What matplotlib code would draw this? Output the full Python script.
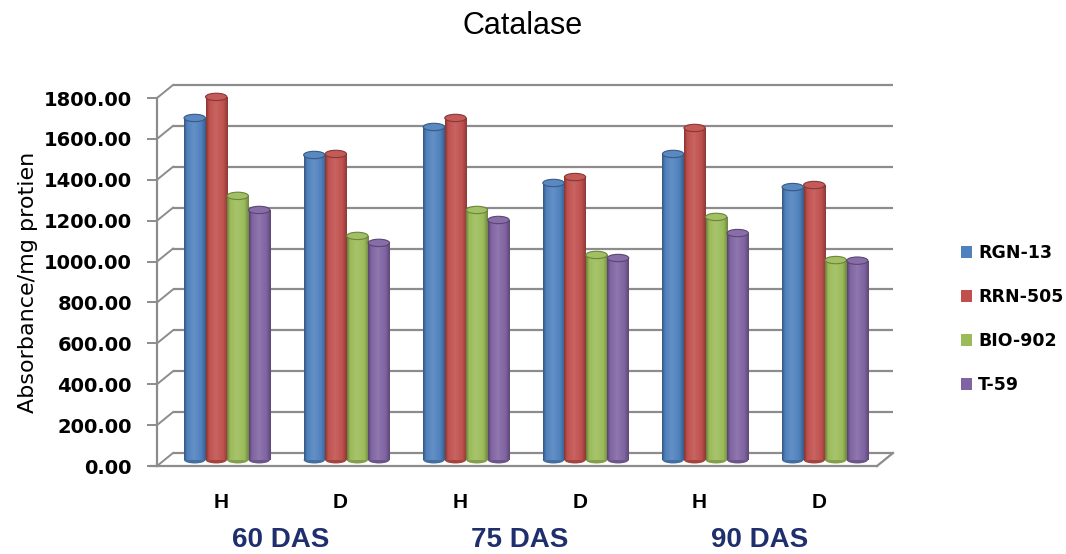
import numpy as np
import matplotlib
matplotlib.use("Agg")
import matplotlib.pyplot as plt
from matplotlib import transforms
from matplotlib.patches import Ellipse, Patch
from matplotlib.colors import LinearSegmentedColormap, to_rgb

# ---- data -------------------------------------------------------------
categories = ["H", "D", "H", "D", "H", "D"]
stages = ["60 DAS", "75 DAS", "90 DAS"]
varieties = ["RGN-13", "RRN-505", "BIO-902", "T-59"]
rgn_13 = [1673, 1492, 1629, 1355, 1497, 1335]
rrn_505 = [1776, 1497, 1673, 1384, 1624, 1345]
bio_902 = [1292, 1096, 1223, 1003, 1189, 978]
t_59 = [1223, 1062, 1174, 988, 1110, 975]
yticks = [0, 200, 400, 600, 800, 1000, 1200, 1400, 1600, 1800]

series = [rgn_13, rrn_505, bio_902, t_59]
colors = ["#4F81BD", "#C0504D", "#9BBB59", "#8064A2"]

W, H, DPI = 1066, 554, 100
GRID = "#8C8C8C"
NAVY = "#1F2F6E"


def shade(c, f):
    r = np.array(to_rgb(c))
    if f >= 0:
        return tuple(r + (1 - r) * f)
    return tuple(r * (1 + f))


fig = plt.figure(figsize=(W / DPI, H / DPI), dpi=DPI)
ax = fig.add_axes([157 / W, 88 / H, 720 / W, 368 / H])
xl0, xl1 = -0.535, 5.485
ax.set_xlim(xl0, xl1)
ax.set_ylim(0, 1800)

# depth of the 3-D box (in data units) and mid-depth shift for the columns
px_x = 720 / (xl1 - xl0)
px_y = 368 / 1800
DX, DY = 16 / px_x, 13 / px_y
bar_trans = ax.transData + transforms.ScaledTranslation(6 / DPI, 6 / DPI, fig.dpi_scale_trans)

# back wall gridlines, side-wall diagonals and floor
for v in yticks:
    ax.plot([xl0 + DX, xl1 + DX], [v + DY, v + DY], color=GRID, lw=1.6,
            clip_on=False, zorder=0.5, solid_capstyle="butt")
    ax.plot([xl0, xl0 + DX], [v, v + DY], color=GRID, lw=1.4,
            clip_on=False, zorder=0.5)
ax.plot([xl1, xl1 + DX], [0, DY], color=GRID, lw=1.6, clip_on=False, zorder=0.5)

for side in ("top", "right"):
    ax.spines[side].set_visible(False)
for side in ("left", "bottom"):
    ax.spines[side].set_color(GRID)
    ax.spines[side].set_linewidth(1.6)
ax.spines["bottom"].set_bounds(xl0 - 0.06, xl1)
ax.set_facecolor("none")

# cylindrical columns
group_w = 0.18
bar_w = 0.178
grad = np.linspace(0, 1, 64)[None, :]
for j, (vals, col) in enumerate(zip(series, colors)):
    cmap = LinearSegmentedColormap.from_list(
        f"cyl{j}",
        [(0.0, shade(col, -0.32)), (0.14, col),
         (0.45, shade(col, 0.12)), (0.8, col), (1.0, shade(col, -0.28))])
    for i, h in enumerate(vals):
        x = i + (j - 1.5) * group_w
        # rounded base
        ax.add_patch(Ellipse((x, 0), bar_w, 34, transform=bar_trans,
                             facecolor=shade(col, -0.15), edgecolor="none",
                             zorder=2, clip_on=False))
        rect = ax.bar(x, h, bar_w, color=col, transform=bar_trans,
                      zorder=2.5, linewidth=0, clip_on=False)[0]
        im = ax.imshow(grad, cmap=cmap, extent=(x - bar_w / 2, x + bar_w / 2, 0, h),
                       aspect="auto", transform=bar_trans, zorder=3,
                       interpolation="bilinear")
        im.set_clip_box(fig.bbox)
        im.set_clip_path(rect)
        ax.add_patch(Ellipse((x, h), bar_w, 36, transform=bar_trans,
                             facecolor=shade(col, 0.06), edgecolor=shade(col, -0.3),
                             lw=0.8, zorder=4, clip_on=False))

ax.set_xlim(xl0, xl1)
ax.set_ylim(0, 1800)

# axes ticks and labels
ax.set_yticks(yticks)
ax.set_yticklabels([f"{v:.2f}" for v in yticks], fontsize=14,
                   fontweight="bold", family="DejaVu Sans")
ax.tick_params(axis="y", direction="out", length=7, width=1.4, color=GRID, pad=11)
ax.set_xticks([])

xa = ax.get_xaxis_transform()
for i, lab in enumerate(categories):
    ax.text(i, -36 / 368, lab, transform=xa, ha="center", va="center",
            fontsize=15, fontweight="bold", family="Liberation Sans")
for k, lab in enumerate(stages):
    ax.text(2 * k + 0.5, -74 / 368, lab, transform=xa, ha="center", va="center",
            fontsize=20, fontweight="bold", family="Liberation Sans", color=NAVY)

fig.text(523 / W, 1 - 26 / H, "Catalase", ha="center", va="center",
         fontsize=22, family="Liberation Sans")
fig.text(28 / W, 1 - 282 / H, "Absorbance/mg protien", rotation=90,
         ha="center", va="center", fontsize=16, family="DejaVu Sans")

handles = [Patch(facecolor=c, edgecolor="none") for c in colors]
fig.legend(handles, varieties, loc="center left",
           bbox_to_anchor=(954 / W, 1 - 319 / H), frameon=False,
           prop={"family": "DejaVu Sans", "weight": "bold", "size": 12.5},
           handlelength=0.65, handleheight=0.65, handletextpad=0.35,
           labelspacing=1.5, borderaxespad=0)

fig.savefig("out.png", dpi=DPI)
